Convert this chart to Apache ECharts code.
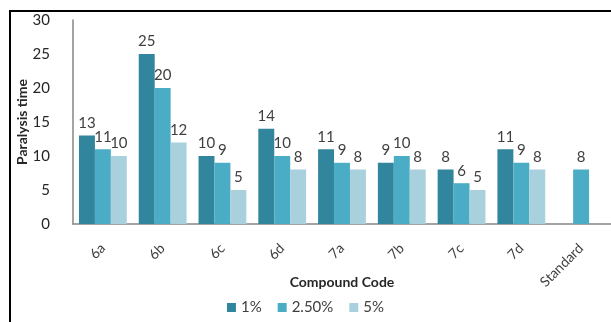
<!DOCTYPE html>
<html><head><meta charset="utf-8">
<script src="https://cdn.jsdelivr.net/npm/echarts@6/dist/echarts.min.js"></script>
<style>
html,body{margin:0;padding:0;background:#fff;}
#c{width:611px;height:322px;position:absolute;left:0;top:0;}
#frame{position:absolute;left:9px;top:10px;width:610px;height:320px;border-top:2px solid #000;border-left:2px solid #000;pointer-events:none;}
</style></head>
<body>
<div id="c"></div>
<div id="frame"></div>
<script>
const categories = ['6a','6b','6c','6d','7a','7b','7c','7d','Standard'];
const seriesNames = ['1%','2.50%','5%'];
const values1 = [13,25,10,14,11,9,8,11,null];
const values25 = [11,20,9,10,9,10,6,9,8];
const values5 = [10,12,5,8,8,8,5,8,null];
const colors = ['#31859C','#4BACC6','#A9D0DD'];
const font = 'Lato, "Open Sans", sans-serif';

const chart = echarts.init(document.getElementById('c'), null, {renderer:'canvas'});
const mk = (name, data, color) => ({
  name, type:'bar', data, barGap:'0%', barCategoryGap:'20%',
  itemStyle:{color},
  label:{show:true, position:'top', distance:5, color:'#404040', fontSize:15, fontFamily:font}
});
chart.setOption({
  animation:false,
  textStyle:{fontFamily:font},
  grid:{left:73, top:20, width:554, height:204, containLabel:false},
  legend:{bottom:2, left:'center', itemWidth:9, itemHeight:9, itemGap:16, icon:'rect',
    textStyle:{fontSize:15, color:'#404040', fontFamily:font}, data:seriesNames},
  xAxis:{type:'category', data:categories,
    name:'Compound Code', nameLocation:'middle', nameGap:51, nameMoveOverlap:false,
    nameTextStyle:{fontSize:14, fontWeight:'bold', color:'#262626', fontFamily:font},
    axisLine:{lineStyle:{color:'#868686', width:1.5}}, axisTick:{show:false},
    axisLabel:{rotate:45, margin:22, fontSize:14, color:'#404040', fontFamily:font, interval:0}},
  yAxis:{type:'value', min:0, max:30, interval:5,
    name:'Paralysis time', nameLocation:'middle', nameGap:44, nameMoveOverlap:false,
    nameTextStyle:{fontSize:14, fontWeight:'bold', color:'#262626', fontFamily:font},
    axisLine:{show:true, lineStyle:{color:'#868686', width:1.5}}, axisTick:{show:false},
    splitLine:{show:false},
    axisLabel:{margin:23, fontSize:15, color:'#262626', fontFamily:font}},
  series:[mk(seriesNames[0], values1, colors[0]), mk(seriesNames[1], values25, colors[1]), mk(seriesNames[2], values5, colors[2])]
});
</script>
</body></html>
